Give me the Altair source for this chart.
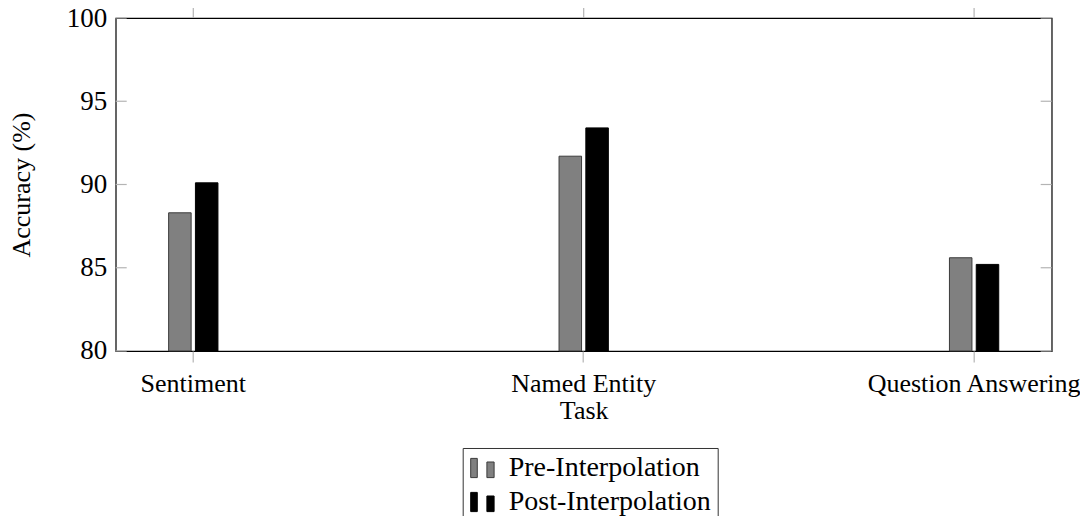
import altair as alt
import pandas as pd

tasks = ["Sentiment", "Named Entity", "Question Answering"]
series = ["Pre-Interpolation", "Post-Interpolation"]
pre_values = [88.3, 91.7, 85.6]
post_values = [90.1, 93.4, 85.2]
y_ticks = [80, 85, 90, 95, 100]

rows = []
for t, a, b in zip(tasks, pre_values, post_values):
    rows.append({"task": t, "series": series[0], "value": a})
    rows.append({"task": t, "series": series[1], "value": b})
df = pd.DataFrame(rows)
task_df = pd.DataFrame({"task": tasks})
tick_df = pd.DataFrame({"v": y_ticks})

FONT = "Liberation Serif"
TICK_GRAY = "#b4b4b4"
W, H = 936, 333

x_enc = alt.X(
    "task:N",
    sort=tasks,
    scale=alt.Scale(paddingInner=0.8737, paddingOuter=0.1356),
    axis=alt.Axis(
        title="Task",
        labelAngle=0,
        labelFont=FONT,
        labelFontSize=26,
        labelColor="black",
        labelPadding=9,
        labelLimit=0,
        tickColor=TICK_GRAY,
        tickSize=11,
        tickWidth=1.2,
        domain=False,
        grid=False,
        titleFont=FONT,
        titleFontSize=26,
        titleFontWeight="normal",
        titleColor="black",
        titleY=68,
        titleBaseline="alphabetic",
    ),
)

y_scale = alt.Scale(domain=[80, 100], nice=False, zero=False)
y_axis = alt.Axis(
    values=y_ticks,
    title="Accuracy (%)",
    labelFont=FONT,
    labelFontSize=27,
    labelColor="black",
    labelPadding=9,
    ticks=False,
    domain=False,
    grid=False,
    titleFont=FONT,
    titleFontSize=26,
    titleFontWeight="normal",
    titleColor="black",
    titleX=-86,
    titleY=H / 2,
    titleBaseline="alphabetic",
)

legend_symbol = (
    "M-1,-0.8 L-0.45,-0.8 L-0.45,0.8 L-1,0.8 Z "
    "M0.35,-0.5 L0.95,-0.5 L0.95,0.8 L0.35,0.8 Z"
)

bars = alt.Chart(df).mark_bar(strokeWidth=1).encode(
    x=x_enc,
    xOffset=alt.XOffset("series:N", sort=series, scale=alt.Scale(paddingInner=0.16)),
    y=alt.Y("value:Q", scale=y_scale, axis=y_axis),
    y2=alt.datum(80),
    fill=alt.Fill(
        "series:N",
        sort=series,
        scale=alt.Scale(domain=series, range=["#808080", "#000000"]),
        legend=alt.Legend(
            title=None,
            orient="none",
            legendX=347,
            legendY=430,
            labelFont=FONT,
            labelFontSize=28,
            labelColor="black",
            labelLimit=0,
            symbolType=legend_symbol,
            symbolSize=576,
            symbolStrokeColor="#222222",
            symbolStrokeWidth=1,
            labelOffset=12,
            padding=6,
            rowPadding=6,
            strokeColor="#333333",
            fillColor="white",
        ),
    ),
    stroke=alt.Stroke(
        "series:N",
        sort=series,
        scale=alt.Scale(domain=series, range=["#3a3a3a", "#000000"]),
        legend=None,
    ),
)

top_ticks = alt.Chart(task_df).mark_rule(color=TICK_GRAY, strokeWidth=1.2).encode(
    x=x_enc,
    y=alt.value(-11),
    y2=alt.value(0),
)

left_ticks = alt.Chart(tick_df).mark_rule(color=TICK_GRAY, strokeWidth=1.2).encode(
    y=alt.Y("v:Q", scale=y_scale, axis=y_axis),
    x=alt.value(0),
    x2=alt.value(11),
)

right_ticks = alt.Chart(tick_df).mark_rule(color=TICK_GRAY, strokeWidth=1.2).encode(
    y=alt.Y("v:Q", scale=y_scale, axis=y_axis),
    x=alt.value(W - 11),
    x2=alt.value(W),
)

chart = (
    alt.layer(left_ticks, right_ticks, top_ticks, bars)
    .properties(
        width=W,
        height=H,
        autosize=alt.AutoSizeParams(type="none"),
        padding={"left": 107.7, "top": 10, "right": 28, "bottom": 165},
    )
    .configure(background="white", view=alt.ViewConfig(stroke="black", strokeWidth=1.2))
)

chart.save("out.html", embed_options={"renderer": "svg", "actions": False})
